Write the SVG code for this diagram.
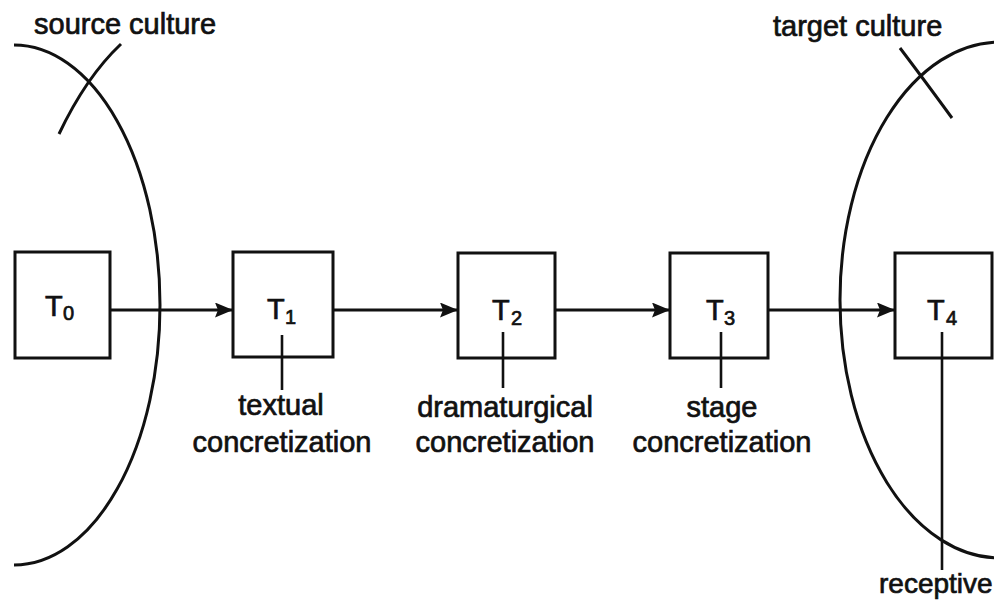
<svg xmlns="http://www.w3.org/2000/svg" width="994" height="600" viewBox="0 0 994 600">
  <defs>
    <style>
      .lbl { font-family: "Liberation Sans", Arial, sans-serif; font-size: 29px; fill: #111; stroke: #111; stroke-width: 0.7; }
      .sub { font-size: 20px; }
      .box { fill: #fff; stroke: #111; stroke-width: 3; }
      .ln { fill: none; stroke: #111; stroke-width: 3; }
      .tick { fill: none; stroke: #111; stroke-width: 2.6; }
    </style>
    <marker id="arrow" markerWidth="19" markerHeight="15" refX="18" refY="7.5" orient="auto" markerUnits="userSpaceOnUse">
      <path d="M0,0 L18,7.5 L0,15 L3,7.5 Z" fill="#111"/>
    </marker>
  </defs>
  <rect width="994" height="600" fill="#fff"/>

  <!-- cultural boundaries -->
  <g id="source-culture">
    <path class="ln" d="M14,45 A146,260 0 0 1 14,565"/>
    <path class="ln" d="M121,44 Q86,77 59,134"/>
    <text class="lbl" x="34" y="34">source culture</text>
  </g>
  <g id="target-culture">
    <path class="ln" d="M1000,42 A160,258 0 0 0 1000,558"/>
    <path class="ln" d="M900,48 Q922,77 952,118"/>
    <text class="lbl" x="773" y="36">target culture</text>
  </g>

  <!-- connectors -->
  <g id="connectors">
    <line class="ln" x1="110" y1="310" x2="233" y2="310" marker-end="url(#arrow)"/>
    <line class="ln" x1="333" y1="310" x2="458" y2="310" marker-end="url(#arrow)"/>
    <line class="ln" x1="555" y1="310" x2="670" y2="310" marker-end="url(#arrow)"/>
    <line class="ln" x1="768" y1="310" x2="895" y2="310" marker-end="url(#arrow)"/>
  </g>

  <!-- text stages -->
  <g id="t0">
    <rect class="box" x="15" y="252" width="95" height="106"/>
    <text class="lbl" x="45" y="316">T<tspan class="sub" x="63" y="320">0</tspan></text>
  </g>
  <g id="t1">
    <rect class="box" x="233" y="252" width="100" height="105"/>
    <text class="lbl" x="267" y="319">T<tspan class="sub" x="285" y="324">1</tspan></text>
    <line class="tick" x1="282" y1="335" x2="282" y2="390"/>
    <text class="lbl" x="281" y="415" text-anchor="middle">textual</text>
    <text class="lbl" x="282" y="452" text-anchor="middle">concretization</text>
  </g>
  <g id="t2">
    <rect class="box" x="458" y="253" width="97" height="105"/>
    <text class="lbl" x="492" y="320">T<tspan class="sub" x="511" y="325">2</tspan></text>
    <line class="tick" x1="503" y1="332" x2="503" y2="388"/>
    <text class="lbl" x="505" y="417" text-anchor="middle">dramaturgical</text>
    <text class="lbl" x="505" y="452" text-anchor="middle">concretization</text>
  </g>
  <g id="t3">
    <rect class="box" x="670" y="253" width="98" height="105"/>
    <text class="lbl" x="706" y="320">T<tspan class="sub" x="724" y="325">3</tspan></text>
    <line class="tick" x1="721" y1="332" x2="721" y2="388"/>
    <text class="lbl" x="722" y="417" text-anchor="middle">stage</text>
    <text class="lbl" x="722" y="452" text-anchor="middle">concretization</text>
  </g>
  <g id="t4">
    <rect class="box" x="895" y="253" width="97" height="105"/>
    <text class="lbl" x="927" y="320">T<tspan class="sub" x="946" y="325">4</tspan></text>
    <line class="tick" x1="942" y1="332" x2="942" y2="570"/>
    <text class="lbl" x="879" y="593" style="font-size:28px">receptive</text>
  </g>
</svg>
